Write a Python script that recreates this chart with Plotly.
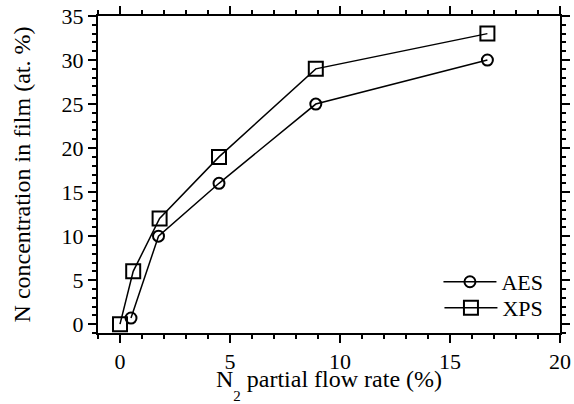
import plotly.graph_objects as go

# N2 partial flow rate (%) and N content in the film (at. %)
aes_flow = [0.5, 1.75, 4.5, 8.9, 16.7]
aes_conc = [0.7, 10.0, 16.0, 25.0, 30.0]
xps_flow = [0.0, 0.6, 1.8, 4.5, 8.9, 16.7]
xps_conc = [0.0, 6.0, 12.0, 19.0, 29.0, 33.0]

FONT = "Liberation Serif, Times New Roman, serif"
FS = 22
TFS = 24

fig = go.Figure()
fig.add_trace(go.Scatter(
    x=aes_flow, y=aes_conc, mode="lines+markers", name="AES", legend="legend",
    line=dict(color="black", width=1.5),
    marker=dict(symbol="circle-open", size=11, color="black", line=dict(width=2)),
))
fig.add_trace(go.Scatter(
    x=xps_flow, y=xps_conc, mode="lines+markers", name="XPS", legend="legend2",
    line=dict(color="black", width=1.5),
    marker=dict(symbol="square-open", size=14, color="black", line=dict(width=2)),
))

axis_common = dict(
    showline=True, linecolor="black", linewidth=2, mirror="ticks",
    ticks="outside", ticklen=8, tickwidth=2, tickcolor="black",
    showgrid=False, zeroline=False, automargin=False,
    tickfont=dict(family=FONT, size=FS, color="black"),
    minor=dict(ticks="outside", ticklen=4, tickwidth=1.5, tickcolor="black", dtick=1),
)

fig.update_xaxes(
    range=[-1, 20], tick0=0, dtick=5, **axis_common,
    title=dict(text='N<span style="font-size:15px;baseline-shift:-14px">2</span> partial flow rate (%)',
               font=dict(family=FONT, size=TFS, color="black"), standoff=0),
)
fig.update_yaxes(
    range=[-1, 35], tick0=0, dtick=5, **axis_common,
    title=dict(text="N concentration in film (at. %)",
               font=dict(family=FONT, size=TFS, color="black"), standoff=24),
)

legend_style = dict(xanchor="right", yanchor="middle", bgcolor="rgba(0,0,0,0)",
                    itemwidth=53, font=dict(family=FONT, size=FS, color="black"))
fig.update_layout(
    width=574, height=404,
    margin=dict(l=98, r=14, t=16, b=71),
    paper_bgcolor="white", plot_bgcolor="white",
    showlegend=True,
    legend=dict(x=0.975, y=0.161, **legend_style),
    legend2=dict(x=0.975, y=0.079, **legend_style),
)

fig.write_html("out.html")
